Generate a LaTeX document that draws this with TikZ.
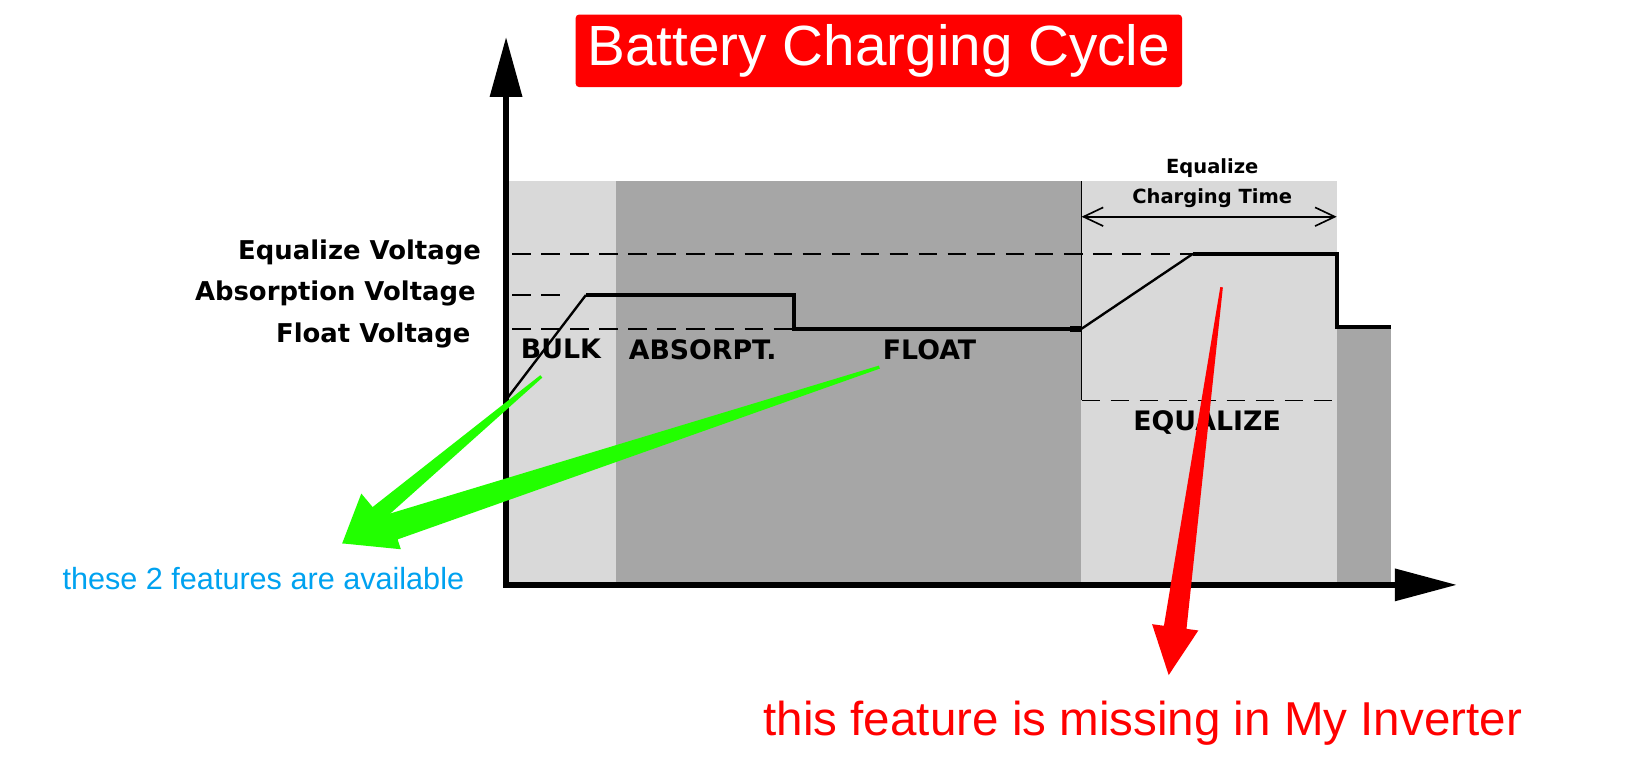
\documentclass[tikz,border=0pt]{standalone}
\usepackage{fontspec}
\setmainfont{Liberation Sans}
\newfontfamily\dvfont{DejaVu Sans}
\usetikzlibrary{arrows.meta,calc}
\definecolor{lgray}{RGB}{217,217,217}
\definecolor{dgray}{RGB}{166,166,166}
\definecolor{grn}{RGB}{34,255,0}
\definecolor{bluetxt}{RGB}{0,162,240}
\definecolor{redc}{RGB}{255,0,0}
\begin{document}
\begin{tikzpicture}[x=0.02cm,y=-0.02cm,
  lbl/.style={inner sep=0pt,font=\dvfont\bfseries\fontsize{14.2pt}{17pt}\selectfont},
  phase/.style={inner sep=0pt,font=\dvfont\bfseries\fontsize{14.7pt}{17pt}\selectfont},
  smalllbl/.style={inner sep=0pt,font=\dvfont\bfseries\fontsize{10.7pt}{13pt}\selectfont},
  dashline/.style={line width=0.85pt,dash pattern=on 0.36cm off 0.2cm},
  curve/.style={line width=2.1pt,line join=miter},
  ramp/.style={line width=1.3pt},
  axis/.style={line width=3.4pt},
  titlebox/.style={fill=redc,text=white,rounded corners=2pt,minimum width=11.7cm,minimum height=1.4cm,inner sep=0pt,font=\fontsize{31.1pt}{36pt}\selectfont}
]
\useasboundingbox (0,0) rectangle (1568,734);
\fill[white] (0,0) rectangle (1568,734);

% shaded phase regions
\fill[lgray] (490,175) rectangle (594,562);
\fill[dgray] (594,175) rectangle (1042,562);
\fill[lgray] (1042,175) rectangle (1289,562);
\fill[dgray] (1289,315) rectangle (1341,562);

% level lines
\draw[dashline] (494,245) -- (1150,245);
\draw[dashline] (494,284.5) -- (540,284.5);
\draw[dashline] (494,317) -- (766,317);
\draw[dashline] (1043,386) -- (1289,386);
\draw[line width=0.9pt] (1043,175) -- (1043,386);

% charging curve
\draw[ramp] (490,383) -- (565,284.5);
\draw[curve] (565,284.5) -- (766,284.5) -- (766,317) -- (1043,317);
\draw[line width=3.2pt] (1032,317) -- (1043,317);
\draw[ramp] (1043,317) -- (1150,245);
\draw[curve] (1150,245) -- (1289,245) -- (1289,315) -- (1341,315);

% equalize charging time bracket
\coordinate (etL) at (1043,209);
\coordinate (etR) at (1289,209);
\draw[line width=0.9pt,{Straight Barb[length=0.38cm,width=0.36cm]}-{Straight Barb[length=0.38cm,width=0.36cm]}] (etL) -- (etR);
\node[smalllbl,anchor=base] (eqt1) at (1169,167) {Equalize};
\node[smalllbl,anchor=base] (eqt2) at (1169,196) {Charging Time};

% axes
\coordinate (orig) at (488,564);
\coordinate (ytop) at (488,35.5);
\coordinate (xend) at (1405,564);
\draw[axis,-{Triangle[length=1.16cm,width=0.6cm]}] (488,567) -- (ytop);
\draw[axis,-{Triangle[length=1.2cm,width=0.6cm]}] (485,564) -- (xend);

% labels
\node[lbl,anchor=base east] (eqv) at (464,250) {Equalize Voltage};
\node[lbl,anchor=base east] (absv) at (459,290) {Absorption Voltage};
\node[lbl,anchor=base east] (flv) at (454,330) {Float Voltage};
\node[phase,anchor=base west] (bulk) at (502,346) {BULK};
\node[phase,anchor=base west] (absorpt) at (606,347) {ABSORPT.};
\node[phase,anchor=base west] (float) at (851,347) {FLOAT};
\node[phase,anchor=base] (equal) at (1164,415.5) {EQUALIZE};

% title
\node[titlebox] (title) at (847.5,49) {Battery Charging Cycle};

% annotations
\node[inner sep=0pt,anchor=base west,text=bluetxt,font=\fontsize{16.8pt}{20pt}\selectfont] (avail) at (60,568) {these 2 features are available};
\node[inner sep=0pt,anchor=base west,text=redc,font=\fontsize{26.1pt}{30pt}\selectfont] (missing) at (736,709) {this feature is missing in My Inverter};

% green arrow from BULK
\coordinate (g1s) at (522,363);
\coordinate (gtip) at (330,524);
\coordinate (g1b) at ($(gtip)!0.9cm!(g1s)$);
\fill[grn] ($(g1s)!0.03cm!90:(gtip)$) -- ($(g1b)!0.16cm!90:(gtip)$) -- ($(g1b)!0.5cm!90:(gtip)$) -- (gtip)
  -- ($(g1b)!0.5cm!-90:(gtip)$) -- ($(g1b)!0.16cm!-90:(gtip)$) -- ($(g1s)!0.03cm!-90:(gtip)$) -- cycle;
% green arrow from FLOAT
\coordinate (g2s) at (848,354);
\coordinate (g2b) at ($(gtip)!1.04cm!(g2s)$);
\fill[grn] ($(g2s)!0.03cm!90:(gtip)$) -- ($(g2b)!0.26cm!90:(gtip)$) -- ($(g2b)!0.46cm!90:(gtip)$) -- (gtip)
  -- ($(g2b)!0.46cm!-90:(gtip)$) -- ($(g2b)!0.26cm!-90:(gtip)$) -- ($(g2s)!0.03cm!-90:(gtip)$) -- cycle;
% red arrow from equalize stage
\coordinate (rs) at (1178,277);
\coordinate (rtip) at (1127,651);
\coordinate (rb) at ($(rtip)!0.93cm!(rs)$);
\fill[redc] ($(rs)!0.025cm!90:(rtip)$) -- ($(rb)!0.22cm!90:(rtip)$) -- ($(rb)!0.45cm!90:(rtip)$) -- (rtip)
  -- ($(rb)!0.45cm!-90:(rtip)$) -- ($(rb)!0.22cm!-90:(rtip)$) -- ($(rs)!0.025cm!-90:(rtip)$) -- cycle;
\end{tikzpicture}
\end{document}
